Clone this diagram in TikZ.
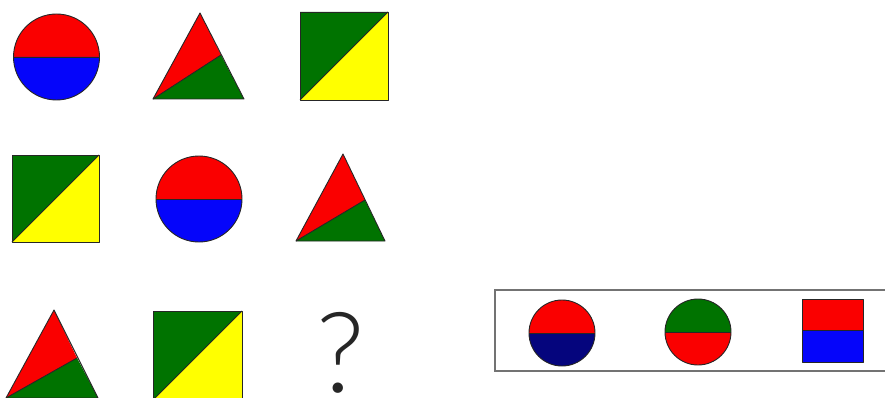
\documentclass[tikz,border=0pt]{standalone}
\usepackage{fontspec}
\usepackage{xcolor}
\usepackage{tikz}
\usetikzlibrary{positioning}
\newfontfamily\askfont{Lato Light}

\definecolor{pzred}{RGB}{250,0,0}
\definecolor{pzblue}{RGB}{5,5,250}
\definecolor{pznavy}{RGB}{5,5,125}
\definecolor{pzgreen}{RGB}{0,115,0}
\definecolor{pzyellow}{RGB}{255,255,0}

\begin{document}
\begin{tikzpicture}[x=1pt,y=1pt,
  edge/.style={draw=black!85,line width=0.9pt,line join=round},
  frame/.style={draw=black!55,line width=1.2pt}]
  \useasboundingbox (0,0) rectangle (885,397);
  \clip (0,0) rectangle (885,397);

  % row 1
  \fill[pzred]  (13.5,340) arc[start angle=180,end angle=0,radius=43] -- cycle;
  \fill[pzblue] (13.5,340) arc[start angle=180,end angle=360,radius=43] -- cycle;
  \draw[edge] (56.5,340) circle[radius=43];
  \draw[edge] (13.5,340) -- (99.5,340);

  \fill[pzred]   (153,298) -- (200,384) -- (221,342) -- cycle;
  \fill[pzgreen] (153,298) -- (221,342) -- (244,298) -- cycle;
  \draw[edge] (153,298) -- (200,384) -- (244,298) -- cycle;
  \draw[edge] (153,298) -- (221,342);

  \fill[pzgreen]  (300,297) -- (300,385) -- (388,385) -- cycle;
  \fill[pzyellow] (300,297) -- (388,385) -- (388,297) -- cycle;
  \draw[edge] (300,297) rectangle (388,385);
  \draw[edge] (300,297) -- (388,385);

  % row 2
  \fill[pzgreen]  (12,155) -- (12,242) -- (99,242) -- cycle;
  \fill[pzyellow] (12,155) -- (99,242) -- (99,155) -- cycle;
  \draw[edge] (12,155) rectangle (99,242);
  \draw[edge] (12,155) -- (99,242);

  \fill[pzred]  (156,198) arc[start angle=180,end angle=0,radius=43] -- cycle;
  \fill[pzblue] (156,198) arc[start angle=180,end angle=360,radius=43] -- cycle;
  \draw[edge] (199,198) circle[radius=43];
  \draw[edge] (156,198) -- (242,198);

  \fill[pzred]   (296,156) -- (343,243) -- (365,197) -- cycle;
  \fill[pzgreen] (296,156) -- (365,197) -- (385,156) -- cycle;
  \draw[edge] (296,156) -- (343,243) -- (385,156) -- cycle;
  \draw[edge] (296,156) -- (365,197);

  % row 3
  \fill[pzred]   (6,-1) -- (54,87) -- (77,39) -- cycle;
  \fill[pzgreen] (6,-1) -- (77,39) -- (98,-1) -- cycle;
  \draw[edge] (6,-1) -- (54,87) -- (98,-1) -- cycle;
  \draw[edge] (6,-1) -- (77,39);

  \fill[pzgreen]  (153,-3) -- (153,86) -- (242,86) -- cycle;
  \fill[pzyellow] (153,-3) -- (242,86) -- (242,-3) -- cycle;
  \draw[edge] (153,-3) rectangle (242,86);
  \draw[edge] (153,-3) -- (242,86);

  \node[font=\askfont\fontsize{112}{112}\selectfont,anchor=base,inner sep=0pt,
        text=black!85] (ask) at (341,5) {?};

  % answers
  \draw[frame] (495,26) rectangle (892,107);

  \fill[pzred]  (529,64) arc[start angle=180,end angle=0,radius=33] -- cycle;
  \fill[pznavy] (529,64) arc[start angle=180,end angle=360,radius=33] -- cycle;
  \draw[edge] (562,64) circle[radius=33];
  \draw[edge] (529,64) -- (595,64);

  \fill[pzgreen] (665,65) arc[start angle=180,end angle=0,radius=33] -- cycle;
  \fill[pzred]   (665,65) arc[start angle=180,end angle=360,radius=33] -- cycle;
  \draw[edge] (698,65) circle[radius=33];
  \draw[edge] (665,65) -- (731,65);

  \fill[pzred]  (802,67) rectangle (863,98);
  \fill[pzblue] (802,35) rectangle (863,67);
  \draw[edge] (802,35) rectangle (863,98);
  \draw[edge] (802,67) -- (863,67);
\end{tikzpicture}
\end{document}
